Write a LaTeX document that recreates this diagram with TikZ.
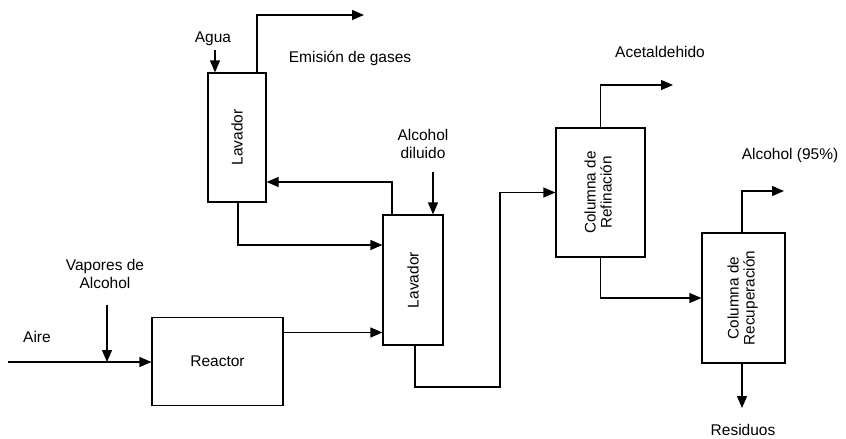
\documentclass[tikz,border=0pt]{standalone}
\usepackage{fontspec}
\setmainfont{Liberation Sans}
\usetikzlibrary{arrows.meta}
\begin{document}
\begin{tikzpicture}[x=1pt,y=-1pt,
  unit/.style={draw,line width=1.2pt,inner sep=0pt,align=center,font=\fontsize{15.5}{17}\selectfont},
  col/.style={unit,font=\fontsize{15.3}{16}\selectfont},
  lbl/.style={inner sep=0pt,align=center,font=\fontsize{15.5}{18}\selectfont},
  arr/.style={line width=1.2pt,-{Triangle[length=12pt,width=10pt]}}]
\useasboundingbox (0,0) rectangle (846,439);
% units
\node[unit,minimum width=58pt,minimum height=129pt] (L1) at (237,137.5) {\rotatebox{90}{Lavador}};
\node[unit,minimum width=60pt,minimum height=130pt] (L2) at (413,280) {\rotatebox{90}{Lavador}};
\node[unit,minimum width=131pt,minimum height=88pt] (R) at (217.5,361.5) {Reactor};
\node[col,minimum width=89pt,minimum height=129pt] (Ref) at (600.5,192.5) {\rotatebox{90}{\begin{tabular}{@{}c@{}}Columna de\\Refinación\end{tabular}}};
\node[col,minimum width=83pt,minimum height=130pt] (Rec) at (743.5,298) {\rotatebox{90}{\begin{tabular}{@{}c@{}}Columna de\\Recuperación\end{tabular}}};
% free ends
\coordinate (agua) at (215,50);
\coordinate (gas) at (364,15);
\coordinate (aire) at (8,362);
\coordinate (vap) at (107,305);
\coordinate (ad) at (433,172);
\coordinate (turn) at (500,387);
\coordinate (acet) at (673,85);
\coordinate (alc) at (784,191);
\coordinate (res) at (742,408);
% labels
\node[lbl] (tAgua) at (213,39) {Agua};
\node[lbl] (tGas) at (350,58) {Emisión de gases};
\node[lbl] (tAD) at (423,144) {Alcohol\\diluido};
\node[lbl] (tVap) at (105,274) {Vapores de\\Alcohol};
\node[lbl] (tAire) at (37,337) {Aire};
\node[lbl] (tAcet) at (660,52) {Acetaldehido};
\node[lbl] (tAlc) at (790,155) {Alcohol (95\%)};
\node[lbl] (tRes) at (743,430) {Residuos};
% connectors
\draw[arr] (agua) -- (agua |- L1.north);
\draw[arr] ([xshift=20pt]L1.north) |- (gas);
\draw[arr] ([xshift=-21pt]L2.north) |- ([yshift=-44.5pt]L1.east);
\draw[arr] ([xshift=1pt]L1.south) |- ([yshift=35pt]L2.west);
\draw[arr] ([yshift=29pt]R.east) -- ([yshift=29pt]R.east -| L2.west);
\draw[arr] (aire) -- (aire -| R.west);
\draw[arr] (vap) -- (vap |- aire);
\draw[arr] (ad) -- (ad |- L2.north);
\draw[arr] ([xshift=2pt]L2.south) |- (turn) |- (Ref.west);
\draw[arr] (Ref.north) |- (acet);
\draw[arr] (Ref.south) |- (Rec.west);
\draw[arr] (res |- Rec.north) |- (alc);
\draw[arr] (res |- Rec.south) -- (res);
\end{tikzpicture}
\end{document}
